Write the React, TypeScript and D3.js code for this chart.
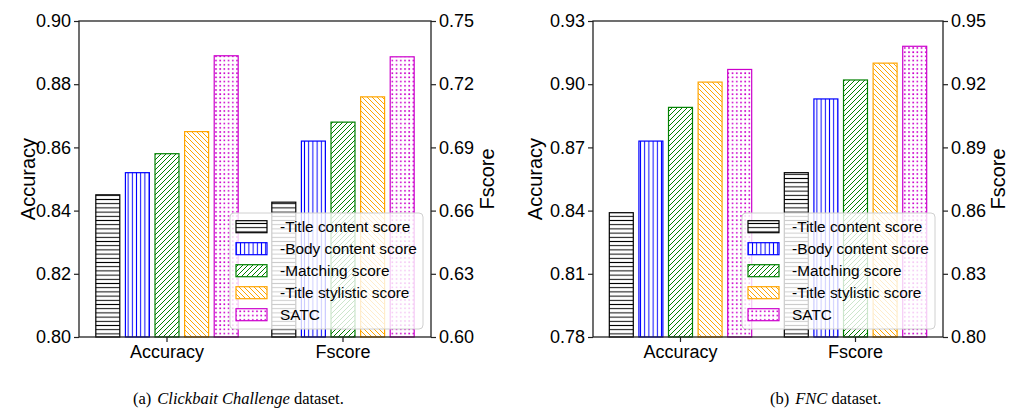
import React, { useRef, useEffect } from 'react';
import * as d3 from 'd3';

const metrics = ['Accuracy', 'Fscore'];
const variants = [
  '-Title content score',
  '-Body content score',
  '-Matching score',
  '-Title stylistic score',
  'SATC'
];
const colors = ['#000000', '#0000ff', '#008000', '#ffa500', '#cc00cc'];
const hatches = ['hline', 'vline', 'diag', 'backdiag', 'dots'];

// Clickbait Challenge dataset
const clickbaitAccuracy = [0.845, 0.852, 0.858, 0.865, 0.889];
const clickbaitFscore = [0.664, 0.693, 0.702, 0.714, 0.733];
const clickbaitAccTicks = [0.8, 0.82, 0.84, 0.86, 0.88, 0.9];
const clickbaitFscoreTicks = [0.6, 0.63, 0.66, 0.69, 0.72, 0.75];

// FNC dataset
const fncAccuracy = [0.839, 0.873, 0.889, 0.901, 0.907];
const fncFscore = [0.878, 0.913, 0.922, 0.93, 0.938];
const fncAccTicks = [0.78, 0.81, 0.84, 0.87, 0.9, 0.93];
const fncFscoreTicks = [0.8, 0.83, 0.86, 0.89, 0.92, 0.95];

const FONT = '"Liberation Sans", Arial, Helvetica, sans-serif';

interface PanelConfig {
  left: number;
  right: number;
  accuracy: number[];
  fscore: number[];
  accTicks: number[];
  fTicks: number[];
  accLabelX: number;
  fLabelX: number;
  captionX: number;
  captionPre: string;
  captionItalic: string;
  captionPost: string;
}

const TOP = 21;
const BOTTOM = 337;

function addPatterns(defs: d3.Selection<SVGDefsElement, unknown, null, undefined>) {
  const s = 4.2;
  hatches.forEach((h, i) => {
    const c = colors[i];
    const size = h === 'diag' || h === 'backdiag' ? 5 : s;
    const p = defs.append('pattern')
      .attr('id', `hatch-${h}`)
      .attr('patternUnits', 'userSpaceOnUse')
      .attr('width', size)
      .attr('height', size);
    p.append('rect').attr('width', size).attr('height', size).attr('fill', '#fff');
    if (h === 'hline') {
      p.append('path').attr('d', `M0,${size / 2}H${size}`).attr('stroke', c).attr('stroke-width', 1);
    } else if (h === 'vline') {
      p.append('path').attr('d', `M${size / 2},0V${size}`).attr('stroke', c).attr('stroke-width', 1);
    } else if (h === 'diag') {
      p.append('path')
        .attr('d', `M0,${size} L${size},0 M${-size / 2},${size / 2} L${size / 2},${-size / 2} M${size / 2},${size * 1.5} L${size * 1.5},${size / 2}`)
        .attr('stroke', c).attr('stroke-width', 1);
    } else if (h === 'backdiag') {
      p.append('path')
        .attr('d', `M0,0 L${size},${size} M${-size / 2},${size / 2} L${size / 2},${size * 1.5} M${size / 2},${-size / 2} L${size * 1.5},${size / 2}`)
        .attr('stroke', c).attr('stroke-width', 1);
    } else {
      p.append('rect').attr('x', 1).attr('y', 1).attr('width', 1.6).attr('height', 1.6).attr('fill', c);
    }
  });
}

function drawPanel(svg: d3.Selection<SVGSVGElement, unknown, null, undefined>, cfg: PanelConfig) {
  const g = svg.append('g');
  const x = d3.scaleBand().domain(metrics).range([cfg.left, cfg.right]);
  const step = 29.6;
  const inner = d3.scaleBand()
    .domain(variants)
    .range([-step * 2.5, step * 2.5])
    .paddingInner(0.19)
    .paddingOuter(0.095);

  const yAcc = d3.scaleLinear()
    .domain([cfg.accTicks[0], cfg.accTicks[cfg.accTicks.length - 1]])
    .range([BOTTOM, TOP]);
  const yF = d3.scaleLinear()
    .domain([cfg.fTicks[0], cfg.fTicks[cfg.fTicks.length - 1]])
    .range([BOTTOM, TOP]);

  // bars
  metrics.forEach((m, mi) => {
    const vals = mi === 0 ? cfg.accuracy : cfg.fscore;
    const y = mi === 0 ? yAcc : yF;
    const center = x(m)! + x.bandwidth() / 2;
    g.selectAll(`.bar-${mi}`)
      .data(vals)
      .enter()
      .append('rect')
      .attr('x', (_, i) => center + inner(variants[i])!)
      .attr('y', d => y(d))
      .attr('width', inner.bandwidth())
      .attr('height', d => BOTTOM - y(d))
      .attr('fill', (_, i) => `url(#hatch-${hatches[i]})`)
      .attr('stroke', (_, i) => colors[i])
      .attr('stroke-width', 1.2);
  });

  // axes
  const styleAxis = (a: d3.Selection<SVGGElement, unknown, null, undefined>) => {
    a.select('.domain').remove();
    a.selectAll('line').attr('stroke', '#222').attr('stroke-width', 1.2);
    a.selectAll('text').attr('fill', '#000').style('font-family', FONT).style('font-size', '18px');
  };

  const leftAxis = g.append('g')
    .attr('transform', `translate(${cfg.left},0)`)
    .call(d3.axisLeft(yAcc).tickValues(cfg.accTicks).tickFormat(d3.format('.2f')).tickSize(5).tickPadding(3));
  styleAxis(leftAxis);

  const rightAxis = g.append('g')
    .attr('transform', `translate(${cfg.right},0)`)
    .call(d3.axisRight(yF).tickValues(cfg.fTicks).tickFormat(d3.format('.2f')).tickSize(5).tickPadding(3));
  styleAxis(rightAxis);

  const bottomAxis = g.append('g')
    .attr('transform', `translate(0,${BOTTOM})`)
    .call(d3.axisBottom(x).tickSize(5).tickPadding(3));
  styleAxis(bottomAxis);

  // frame
  g.append('rect')
    .attr('x', cfg.left)
    .attr('y', TOP)
    .attr('width', cfg.right - cfg.left)
    .attr('height', BOTTOM - TOP)
    .attr('fill', 'none')
    .attr('stroke', '#222')
    .attr('stroke-width', 1.3);

  // axis labels
  const midY = (TOP + BOTTOM) / 2;
  g.append('text')
    .attr('transform', `translate(${cfg.accLabelX},${midY}) rotate(-90)`)
    .attr('text-anchor', 'middle')
    .style('font-family', FONT)
    .style('font-size', '20px')
    .text('Accuracy');
  g.append('text')
    .attr('transform', `translate(${cfg.fLabelX},${midY}) rotate(-90)`)
    .attr('text-anchor', 'middle')
    .style('font-family', FONT)
    .style('font-size', '20px')
    .text('Fscore');

  // legend
  const lw = 193;
  const lh = 116;
  const legend = g.append('g')
    .attr('transform', `translate(${cfg.right - 8 - lw},${BOTTOM - 8 - lh})`);
  legend.append('rect')
    .attr('width', lw)
    .attr('height', lh)
    .attr('rx', 4)
    .attr('fill', '#fff')
    .attr('fill-opacity', 0.8)
    .attr('stroke', '#d0d0d0')
    .attr('stroke-width', 1);
  variants.forEach((v, i) => {
    const cy = 13.7 + i * 22;
    legend.append('rect')
      .attr('x', 6)
      .attr('y', cy - 6)
      .attr('width', 31)
      .attr('height', 12)
      .attr('fill', `url(#hatch-${hatches[i]})`)
      .attr('stroke', colors[i])
      .attr('stroke-width', 1.2);
    legend.append('text')
      .attr('x', 50)
      .attr('y', cy)
      .attr('dy', '0.35em')
      .style('font-family', FONT)
      .style('font-size', '15.4px')
      .text(v);
  });

  // caption
  const cap = svg.append('text')
    .attr('x', cfg.captionX)
    .attr('y', 404)
    .style('font-family', '"Liberation Serif", "Times New Roman", serif')
    .style('font-size', '16.5px');
  cap.append('tspan').text(cfg.captionPre);
  cap.append('tspan').attr('dx', 6).style('font-style', 'italic').text(cfg.captionItalic);
  cap.append('tspan').text(cfg.captionPost);
}

const App: React.FC = () => {
  const svgRef = useRef<SVGSVGElement>(null);

  useEffect(() => {
    if (!svgRef.current) return;
    const svg = d3.select(svgRef.current);
    svg.selectAll('*').remove();
    addPatterns(svg.append('defs'));

    drawPanel(svg, {
      left: 79,
      right: 431,
      accuracy: clickbaitAccuracy,
      fscore: clickbaitFscore,
      accTicks: clickbaitAccTicks,
      fTicks: clickbaitFscoreTicks,
      accLabelX: 35,
      fLabelX: 494,
      captionX: 133,
      captionPre: '(a)',
      captionItalic: 'Clickbait Challenge',
      captionPost: ' dataset.'
    });

    drawPanel(svg, {
      left: 593,
      right: 943,
      accuracy: fncAccuracy,
      fscore: fncFscore,
      accTicks: fncAccTicks,
      fTicks: fncFscoreTicks,
      accLabelX: 542,
      fLabelX: 1005,
      captionX: 770,
      captionPre: '(b)',
      captionItalic: 'FNC',
      captionPost: ' dataset.'
    });
  }, []);

  return (
    <svg
      ref={svgRef}
      width={1011}
      height={412}
      style={{ position: 'absolute', left: 0, top: 0, background: '#fff' }}
    />
  );
};

export default App;
